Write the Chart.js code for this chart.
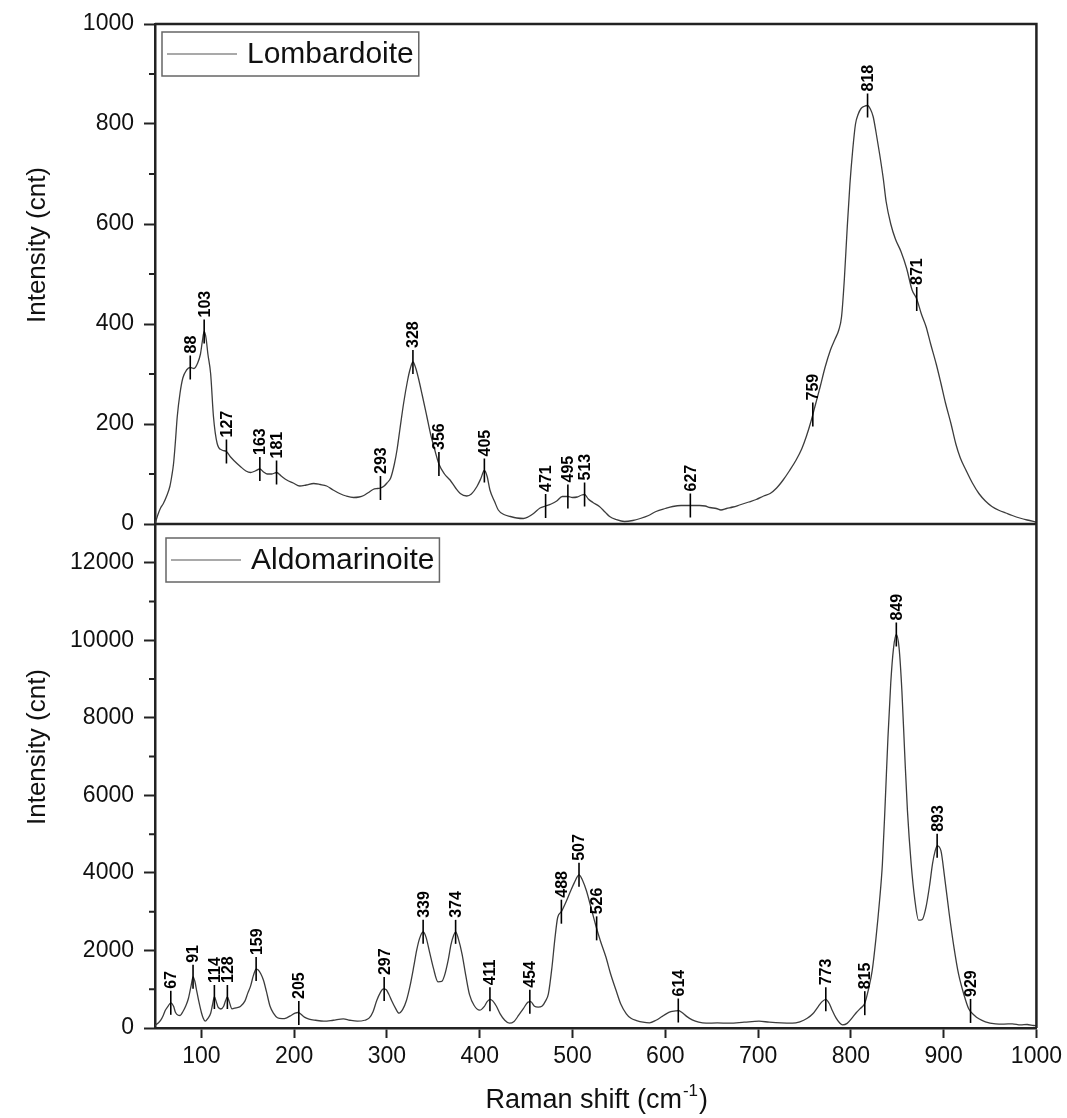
<!DOCTYPE html>
<html><head><meta charset="utf-8">
<script src="https://cdn.jsdelivr.net/npm/chart.js@4.4.1/dist/chart.umd.min.js"></script>
<style>html,body{margin:0;padding:0;background:#fff;}canvas{display:block;}</style>
</head><body>
<canvas id="c" width="1067" height="1118"></canvas>
<script>
// ---- data ----
const seriesNames = ['Lombardoite', 'Aldomarinoite'];
const lombX = [50,53,56,59,63,66,68,70,72,74,77,80,84,88,92,96,99,101,103,105,107,110,113,117,122,127,131,135,142,148,153,158,163,167,171,176,181,186,192,199,206,213,221,228,235,242,249,256,264,270,275,280,285,290,293,297,300,304,308,311,314,318,322,325,328,331,334,338,343,347,351,356,362,368,374,379,386,391,397,401,405,408,411,416,420,426,433,440,447,452,458,465,471,477,483,489,495,500,505,510,513,517,522,529,535,540,547,556,565,573,582,590,600,608,617,627,637,643,648,655,660,666,673,680,690,698,706,713,720,727,734,741,747,752,757,762,767,772,778,783,787,790,793,796,799,802,805,808,811,814,818,821,824,827,831,835,838,843,848,854,860,866,871,876,881,886,892,897,902,908,913,918,924,931,938,945,952,960,967,974,982,990,1000];
const lombY = [0,18,32,41,58,75,95,121,165,215,262,292,308,313,311,322,340,365,385,372,340,300,215,161,148,145,135,127,115,106,103,106,110,104,100,100,103,96,88,82,76,78,81,79,76,68,61,56,53,54,57,63,69,71,72,76,82,92,120,150,190,242,285,310,324,312,291,258,215,180,152,120,100,88,72,61,56,60,75,90,107,95,68,45,28,19,15,12,11,14,21,32,36,40,46,55,55,53,54,58,59,50,43,35,24,15,9,5,7,11,17,25,31,35,37,37,37,36,33,31,28,31,34,38,44,49,56,61,72,88,107,128,150,175,205,240,275,312,348,370,388,415,490,590,680,748,800,820,831,835,837,830,815,785,740,690,645,600,570,545,512,468,450,420,395,360,320,282,242,200,161,132,108,82,61,46,35,27,22,17,12,8,4];
const aldoX = [50,53,56,59,61,64,67,70,72,75,77,80,83,86,89,91,93,95,97,100,102,104,107,110,112,114,116,118,121,124,126,128,130,133,137,142,147,150,153,156,159,161,164,167,170,174,178,182,187,192,197,201,204,207,211,216,223,232,242,253,260,268,276,281,285,289,293,296,299,302,305,309,313,317,321,325,329,332,335,339,342,346,350,355,359,362,366,369,372,374,377,381,385,389,394,400,405,408,411,414,418,422,427,432,437,442,447,452,455,459,463,467,471,474,478,481,484,488,492,497,502,507,511,515,520,525,530,536,541,547,552,558,563,569,576,583,590,596,601,606,611,614,618,623,629,636,644,656,669,685,701,712,725,737,745,753,759,765,769,773,777,780,784,788,791,796,802,806,810,815,819,823,827,831,834,837,840,843,846,849,852,855,858,861,865,869,873,877,881,885,888,891,893,897,901,906,911,916,922,927,933,938,945,956,965,974,983,990,997,1000];
const aldoY = [65,120,194,330,450,560,650,560,408,330,322,420,560,760,1100,1320,1200,950,710,400,250,176,250,380,600,800,680,537,490,560,700,800,680,495,520,555,700,900,1080,1350,1520,1500,1400,1225,950,560,370,263,240,263,330,382,400,360,280,230,200,175,200,237,200,175,200,260,420,710,920,1010,990,870,710,520,382,480,710,1100,1600,2000,2300,2480,2350,1950,1550,1190,1200,1350,1750,2150,2400,2480,2300,1900,1350,860,580,460,560,680,740,700,560,366,200,124,170,330,500,666,680,560,537,560,700,880,1600,2300,2850,3000,3200,3480,3750,3950,3800,3540,3100,2650,2250,1830,1400,967,620,366,250,193,150,134,200,290,366,420,440,451,400,300,211,150,124,130,124,150,175,150,130,124,160,250,366,560,680,740,620,451,260,130,83,120,279,400,500,640,1000,1480,2300,3300,4236,5800,7500,8900,9800,10150,9800,8700,7100,5600,4236,3300,2780,2800,3117,3700,4236,4580,4700,4580,3900,2946,2100,1400,850,495,330,237,160,108,100,108,80,90,65,60];
const lombPeaks = [88,103,127,163,181,293,328,356,405,471,495,513,627,759,818,871];
const aldoPeaks = [67,91,114,128,159,205,297,339,374,411,454,488,507,526,614,773,815,849,893,929];
const xTicks = [100,200,300,400,500,600,700,800,900,1000];
const lombTicks = [0,200,400,600,800,1000];
const lombMinor = [100,300,500,700,900];
const aldoTicks = [0,2000,4000,6000,8000,10000,12000];
const aldoMinor = [1000,3000,5000,7000,9000,11000];
const xTitleMain = 'Raman shift (cm';
const xTitleSup = '-1';
const xTitleEnd = ')';
const yTitle = 'Intensity (cnt)';

// ---- styling ----
const FONT = '"Liberation Sans", Arial, Helvetica, sans-serif';
const AXIS = '#222';
Chart.defaults.font.family = FONT;

function pts(xs, ys) { return xs.map((x, i) => ({x: x, y: ys[i]})); }
function interp(xs, ys, p) {
  for (let i = 0; i < xs.length - 1; i++) {
    if (p >= xs[i] && p <= xs[i + 1]) {
      const t = (p - xs[i]) / (xs[i + 1] - xs[i]);
      return ys[i] + t * (ys[i + 1] - ys[i]);
    }
  }
  return ys[ys.length - 1];
}
function setTicks(list) { return function (s) { s.ticks = list.map(v => ({value: v})); }; }
const plain = v => String(v);

const tickFont = {family: FONT, size: 23};
function yScale(ticks, max, weight) {
  return {
    type: 'linear', position: 'left', stack: 'panels', stackWeight: weight.sw, weight: weight.w,
    min: 0, max: max,
    afterBuildTicks: setTicks(ticks),
    afterFit: function (s) { s.width = 155; },
    grid: {drawOnChartArea: false, drawTicks: true, tickLength: 11, tickWidth: 2, tickColor: AXIS},
    border: {display: true, color: AXIS, width: 2.5},
    ticks: {font: tickFont, color: '#111', padding: 10, callback: plain}
  };
}

const decor = {
  id: 'decor',
  afterDatasetsDraw(chart) {
    const ctx = chart.ctx;
    const xs = chart.scales.x;
    const panels = [
      {sc: chart.scales.yTop, xsArr: lombX, ysArr: lombY, peaks: lombPeaks, minor: lombMinor, name: seriesNames[0], lx: 7, ly: 8},
      {sc: chart.scales.yBot, xsArr: aldoX, ysArr: aldoY, peaks: aldoPeaks, minor: aldoMinor, name: seriesNames[1], lx: 11, ly: 14}
    ];
    const a = chart.chartArea;
    ctx.save();
    // frame
    ctx.strokeStyle = AXIS; ctx.lineWidth = 2.5;
    ctx.beginPath();
    ctx.moveTo(a.left, a.top); ctx.lineTo(a.right, a.top); ctx.lineTo(a.right, a.bottom);
    const sep = chart.scales.yTop.bottom;
    ctx.moveTo(a.left, sep); ctx.lineTo(a.right, sep);
    ctx.stroke();
    panels.forEach(p => {
      // minor ticks
      ctx.strokeStyle = AXIS; ctx.lineWidth = 2;
      ctx.beginPath();
      p.minor.forEach(v => {
        const y = p.sc.getPixelForValue(v);
        ctx.moveTo(a.left - 6, y); ctx.lineTo(a.left, y);
      });
      ctx.stroke();
      // peak markers
      ctx.strokeStyle = '#000'; ctx.lineWidth = 1.6; ctx.fillStyle = '#000';
      ctx.font = 'bold 16px ' + FONT;
      p.peaks.forEach(pk => {
        const px = xs.getPixelForValue(pk);
        const py = p.sc.getPixelForValue(interp(p.xsArr, p.ysArr, pk));
        ctx.beginPath(); ctx.moveTo(px, py - 12); ctx.lineTo(px, py + 12); ctx.stroke();
        ctx.save();
        ctx.translate(px + 1, py - 14);
        ctx.rotate(-Math.PI / 2);
        ctx.textAlign = 'left'; ctx.textBaseline = 'middle';
        ctx.fillText(String(pk), 0, 0);
        ctx.restore();
      });
      // legend
      ctx.font = '30px ' + FONT;
      const tw = ctx.measureText(p.name).width;
      const bx = a.left + p.lx, by = p.sc.top + p.ly;
      ctx.strokeStyle = '#666'; ctx.lineWidth = 1.5;
      ctx.strokeRect(bx, by, 90 + tw, 44);
      ctx.strokeStyle = '#555'; ctx.lineWidth = 1.2;
      ctx.beginPath(); ctx.moveTo(bx + 5, by + 22); ctx.lineTo(bx + 75, by + 22); ctx.stroke();
      ctx.fillStyle = '#111'; ctx.textAlign = 'left'; ctx.textBaseline = 'middle';
      ctx.fillText(p.name, bx + 85, by + 23);
      // y title
      ctx.save();
      ctx.font = '26px ' + FONT;
      const cy = (p.sc.top + p.sc.bottom) / 2 - 29;
      ctx.translate(38, cy); ctx.rotate(-Math.PI / 2);
      ctx.textAlign = 'center'; ctx.textBaseline = 'middle'; ctx.fillStyle = '#111';
      ctx.fillText(yTitle, 0, 0);
      ctx.restore();
    });
    // x title with superscript
    ctx.fillStyle = '#111'; ctx.textBaseline = 'alphabetic'; ctx.textAlign = 'left';
    ctx.font = '27px ' + FONT; const w1 = ctx.measureText(xTitleMain).width; const w3 = ctx.measureText(xTitleEnd).width;
    ctx.font = '17px ' + FONT; const w2 = ctx.measureText(xTitleSup).width;
    let x0 = (a.left + a.right) / 2 - (w1 + w2 + w3) / 2;
    const base = 1108;
    ctx.font = '27px ' + FONT; ctx.fillText(xTitleMain, x0, base);
    ctx.font = '17px ' + FONT; ctx.fillText(xTitleSup, x0 + w1 + 1, base - 12);
    ctx.font = '27px ' + FONT; ctx.fillText(xTitleEnd, x0 + w1 + w2 + 2, base);
    ctx.restore();
  }
};

new Chart(document.getElementById('c'), {
  type: 'line',
  data: {
    datasets: [
      {label: seriesNames[0], data: pts(lombX, lombY), yAxisID: 'yTop', borderColor: '#3c3c3c', borderWidth: 1.3, pointRadius: 0, cubicInterpolationMode: 'monotone', fill: false},
      {label: seriesNames[1], data: pts(aldoX, aldoY), yAxisID: 'yBot', borderColor: '#3c3c3c', borderWidth: 1.3, pointRadius: 0, cubicInterpolationMode: 'monotone', fill: false}
    ]
  },
  options: {
    responsive: false, animation: false, devicePixelRatio: 1,
    layout: {padding: {top: 24, right: 30, bottom: 0, left: 0}},
    plugins: {legend: {display: false}, tooltip: {enabled: false}},
    scales: {
      x: {
        type: 'linear', min: 50, max: 1000,
        afterBuildTicks: setTicks(xTicks),
        afterFit: function (s) { s.height = 90; },
        grid: {drawOnChartArea: false, drawTicks: true, tickLength: 10, tickWidth: 2, tickColor: AXIS},
        border: {display: true, color: AXIS, width: 2.5},
        ticks: {font: tickFont, color: '#111', padding: 5, maxRotation: 0, callback: plain}
      },
      yTop: yScale(lombTicks, 1000, {sw: 500, w: 2}),
      yBot: yScale(aldoTicks, 13000, {sw: 504, w: 1})
    }
  },
  plugins: [decor]
});
</script>
</body></html>
